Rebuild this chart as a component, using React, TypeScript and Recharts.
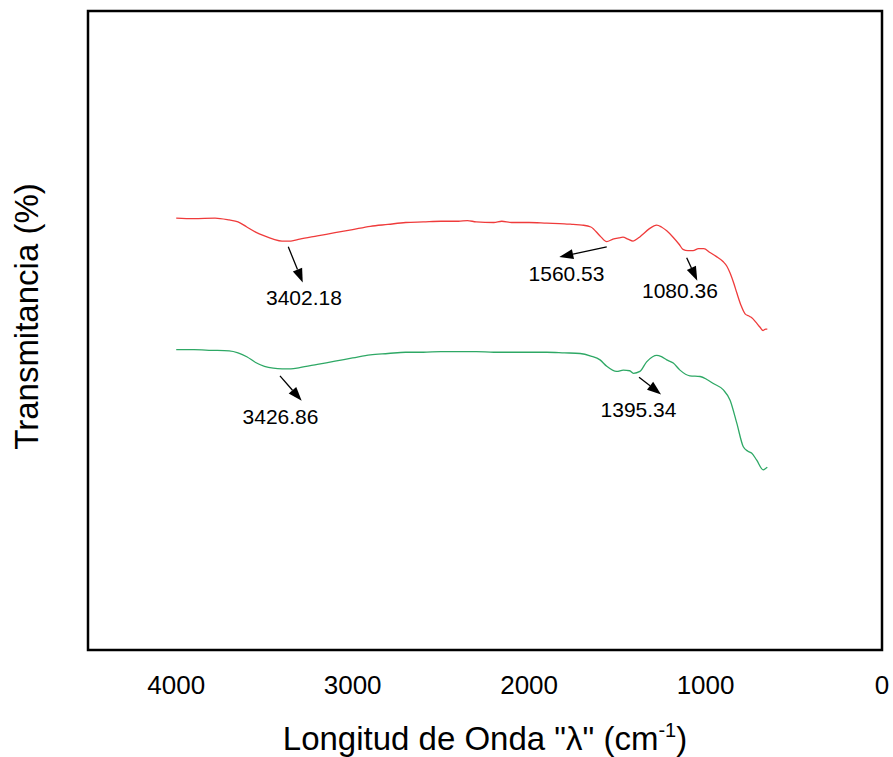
import React from 'react';
import { ComposedChart, Line, XAxis, YAxis, ReferenceArea, ReferenceLine, ReferenceDot } from 'recharts';

const FONT = "'Liberation Sans', Arial, Helvetica, sans-serif";

// Red spectrum (wavenumber cm^-1, transmittance arbitrary %)
const redWavenumbers = [4000, 3900, 3780, 3700, 3650, 3600, 3550, 3500, 3450, 3400, 3350, 3300, 3200, 3100, 3000, 2900, 2800, 2700, 2600, 2500, 2400, 2350, 2300, 2200, 2155, 2100, 2000, 1900, 1800, 1750, 1700, 1650, 1598, 1560, 1525, 1490, 1468, 1440, 1411, 1380, 1362, 1320, 1277, 1250, 1220, 1184, 1150, 1128, 1100, 1071, 1040, 1010, 975, 940, 901, 880, 861, 840, 823, 800, 776, 750, 738, 715, 691, 674, 660, 650];
const redTransmittance = [67.6, 67.5, 67.6, 67.3, 67.0, 66.2, 65.4, 64.8, 64.3, 64.0, 64.0, 64.3, 64.8, 65.3, 65.8, 66.3, 66.6, 66.9, 67.0, 67.1, 67.1, 67.2, 67.0, 66.9, 67.1, 66.9, 66.9, 66.8, 66.7, 66.6, 66.5, 66.2, 64.8, 63.9, 64.3, 64.5, 64.6, 64.3, 64.0, 64.5, 64.9, 65.9, 66.5, 66.2, 65.6, 64.6, 63.5, 62.7, 62.5, 62.5, 62.8, 62.8, 62.2, 61.6, 60.8, 60.1, 59.0, 57.4, 55.9, 54.0, 52.6, 52.2, 52.0, 51.3, 50.5, 50.0, 50.2, 50.2];

// Green spectrum
const greenWavenumbers = [4000, 3900, 3800, 3700, 3650, 3600, 3550, 3500, 3450, 3400, 3350, 3300, 3200, 3100, 3000, 2900, 2800, 2700, 2600, 2500, 2400, 2300, 2200, 2100, 2000, 1900, 1800, 1711, 1650, 1598, 1560, 1504, 1466, 1430, 1409, 1372, 1334, 1300, 1277, 1250, 1220, 1183, 1145, 1089, 1031, 990, 956, 899, 861, 823, 786, 760, 738, 710, 673, 660, 650];
const greenTransmittance = [47.0, 47.0, 46.9, 46.8, 46.5, 45.9, 45.0, 44.4, 44.1, 44.0, 44.0, 44.2, 44.7, 45.2, 45.7, 46.2, 46.4, 46.6, 46.6, 46.7, 46.7, 46.7, 46.6, 46.6, 46.6, 46.6, 46.5, 46.4, 46.0, 45.4, 44.4, 43.6, 43.8, 43.7, 43.3, 43.6, 45.1, 45.9, 46.1, 45.9, 45.4, 44.9, 43.8, 42.9, 42.8, 42.3, 41.7, 40.7, 39.1, 35.5, 31.8, 31.1, 30.8, 29.7, 28.2, 28.4, 28.6];

const xTicks = [4000, 3000, 2000, 1000, 0];

// Peak annotations
const annotationLabels = ['3402.18', '1560.53', '1080.36', '3426.86', '1395.34'];
const arrowTailX = [3365, 1560, 1107, 3412, 1377];
const arrowTailY = [63.1, 63.1, 61.4, 42.9, 42.7];
const arrowHeadX = [3283, 1829, 1047, 3289, 1252];
const arrowHeadY = [57.5, 61.5, 57.8, 39.0, 40.0];
const labelX = [3276, 1788, 1145, 3409, 1380];
const labelY = [55.2, 58.9, 56.2, 36.6, 37.7];

const redData = redWavenumbers.map((w, i) => ({ w, t: redTransmittance[i] }));
const greenData = greenWavenumbers.map((w, i) => ({ w, t: greenTransmittance[i] }));

const ArrowShape = (props: any) => {
  const { x1, y1, x2, y2 } = props;
  const dx = x2 - x1;
  const dy = y2 - y1;
  const len = Math.hypot(dx, dy) || 1;
  const ux = dx / len;
  const uy = dy / len;
  const headLen = 14;
  const headW = 5;
  const bx = x2 - ux * headLen;
  const by = y2 - uy * headLen;
  const px = -uy;
  const py = ux;
  return (
    <g>
      <line x1={x1} y1={y1} x2={bx} y2={by} stroke="#000" strokeWidth={1.3} />
      <polygon
        points={`${x2},${y2} ${bx + px * headW},${by + py * headW} ${bx - px * headW},${by - py * headW}`}
        fill="#000"
      />
    </g>
  );
};

const XTitle = (props: any) => {
  const vb = props.viewBox || {};
  const cx = vb.x + vb.width / 2;
  const y = vb.y + 100;
  return (
    <text x={cx} y={y} textAnchor="middle" fontSize={33} fontFamily={FONT} fill="#000">
      <tspan>Longitud de Onda "λ" (cm</tspan>
      <tspan fontSize={20} dy={-13}>-1</tspan>
      <tspan dy={13}>)</tspan>
    </text>
  );
};

// Rendered as the frame's label: viewBox is the plot rectangle
const YTitle = (props: any) => {
  const vb = props.viewBox || {};
  const x = vb.x - 50;
  const y = vb.y + vb.height / 2 - 14;
  return (
    <text
      x={x}
      y={y}
      transform={`rotate(-90, ${x}, ${y})`}
      textAnchor="middle"
      fontSize={33}
      fontFamily={FONT}
      fill="#000"
    >
      Transmitancia (%)
    </text>
  );
};

export default function App() {
  return (
    <div style={{ position: 'absolute', left: 0, top: 0, width: 893, height: 757, background: '#fff' }}>
      <ComposedChart
        width={893}
        height={757}
        margin={{ top: 11, right: 11, bottom: 47, left: 88 }}
        style={{ overflow: 'visible' }}
      >
        <XAxis
          dataKey="w"
          type="number"
          domain={[0, 4500]}
          reversed
          ticks={xTicks}
          allowDataOverflow
          height={60}
          axisLine={false}
          tickLine={false}
          tickMargin={20}
          tick={{ fontSize: 26, fill: '#000', fontFamily: FONT }}
          label={XTitle}
        />
        <YAxis
          type="number"
          domain={[0, 100]}
          width={0}
          tick={false}
          axisLine={false}
          tickLine={false}
          allowDataOverflow
        />
        <ReferenceArea
          x1={4500}
          x2={0}
          y1={0}
          y2={100}
          fill="none"
          fillOpacity={0}
          stroke="#000"
          strokeWidth={2.5}
          label={YTitle}
        />
        <Line data={redData} dataKey="t" type="monotone" stroke="#ef3b3b" strokeWidth={1.3} dot={false} isAnimationActive={false} />
        <Line data={greenData} dataKey="t" type="monotone" stroke="#2ea865" strokeWidth={1.3} dot={false} isAnimationActive={false} />
        {annotationLabels.map((lab, i) => (
          <ReferenceLine
            key={'arrow-' + lab}
            segment={[
              { x: arrowTailX[i], y: arrowTailY[i] },
              { x: arrowHeadX[i], y: arrowHeadY[i] },
            ]}
            shape={ArrowShape}
          />
        ))}
        {annotationLabels.map((lab, i) => (
          <ReferenceDot
            key={'label-' + lab}
            x={labelX[i]}
            y={labelY[i]}
            r={0}
            shape={(p: any) => (
              <text
                x={p.cx}
                y={p.cy}
                textAnchor="middle"
                dominantBaseline="central"
                fontSize={21}
                fontFamily={FONT}
                fill="#000"
              >
                {lab}
              </text>
            )}
          />
        ))}
      </ComposedChart>
    </div>
  );
}
